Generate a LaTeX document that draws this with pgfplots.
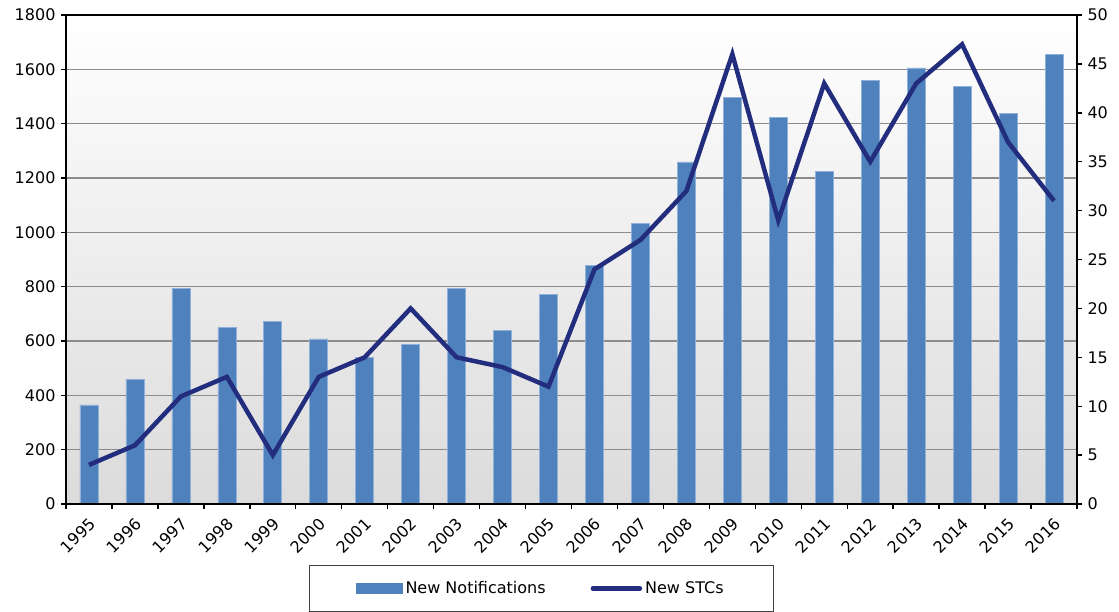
\documentclass[border=0pt]{standalone}
\usepackage{pgfplots}
\pgfplotsset{compat=1.18}
\usepackage{pgfplotstable}
\usepackage{fontspec}
\setmainfont{DejaVu Sans}
\definecolor{barblue}{HTML}{4F81BD}
\definecolor{baredge}{HTML}{8FB0D8}
\definecolor{linenavy}{HTML}{232D7D}
\definecolor{gridgray}{HTML}{8C8C8C}
\newcommand{\chartfont}{\fontsize{16}{19}\selectfont}
\newcommand{\tl}[1]{\textnormal{\chartfont #1}}

\pgfplotstableread{
x year notif stc
0 1995 365 4
1 1996 460 6
2 1997 795 11
3 1998 649 13
4 1999 673 5
5 2000 608 13
6 2001 541 15
7 2002 587 20
8 2003 795 15
9 2004 638 14
10 2005 772 12
11 2006 877 24
12 2007 1033 27
13 2008 1259 32
14 2009 1497 46
15 2010 1423 29
16 2011 1223 43
17 2012 1558 35
18 2013 1605 43
19 2014 1536 47
20 2015 1439 37
21 2016 1655 31
}\data

\begin{document}
\begin{tikzpicture}[font=\chartfont]
\pgfplotsset{
  common/.style={
    scale only axis, width=1011pt, height=489pt,
    xmin=-0.5, xmax=21.5,
    axis line style={black, line width=2.6pt},
    tick align=outside,
    major tick length=5pt,
    tick style={black, line width=1.4pt},
    tick label style={font=\chartfont},
  }
}
\begin{axis}[common, name=ax1,
  ymin=0, ymax=1800, ytick={0,200,400,600,800,1000,1200,1400,1600,1800},
  yticklabels={\tl{0},\tl{200},\tl{400},\tl{600},\tl{800},\tl{1000},\tl{1200},\tl{1400},\tl{1600},\tl{1800}},
  ytick pos=left,
  xtick={-0.5,0.5,...,21.5},
  xtick pos=bottom,
  x tick label as interval,
  xticklabels={\tl{1995},\tl{1996},\tl{1997},\tl{1998},\tl{1999},\tl{2000},\tl{2001},\tl{2002},\tl{2003},\tl{2004},\tl{2005},\tl{2006},\tl{2007},\tl{2008},\tl{2009},\tl{2010},\tl{2011},\tl{2012},\tl{2013},\tl{2014},\tl{2015},\tl{2016}},
  xticklabel style={rotate=45, anchor=east, inner sep=2pt, xshift=-4pt, yshift=-11pt},
  yticklabel style={xshift=-2pt},
  ymajorgrids,
  major grid style={gridgray, line width=1.5pt},
  axis background/.style={top color=white, middle color=gray!6, bottom color=gray!28},
]
\addplot[ybar, bar width=18pt, fill=barblue, draw=baredge, line width=0.6pt] table[x=x, y=notif]{\data};
\end{axis}
\begin{axis}[common,
  ymin=0, ymax=50, ytick={0,5,10,15,20,25,30,35,40,45,50},
  yticklabels={\tl{0},\tl{5},\tl{10},\tl{15},\tl{20},\tl{25},\tl{30},\tl{35},\tl{40},\tl{45},\tl{50}},
  ytick pos=right,
  xtick=\empty,
  yticklabel style={xshift=2pt},
  legend style={at={(0.4703,0)}, anchor=north, yshift=-61pt,
    draw=black!75, line width=1.2pt, fill=white, font=\chartfont,
    legend columns=2, inner xsep=46.5pt, inner ysep=13pt,
    /tikz/every even column/.append style={column sep=42pt},
    nodes={inner sep=3pt}},
]
\addlegendimage{legend image code/.code={\fill[barblue] (0pt,-5pt) rectangle (45pt,5pt);}}
\addlegendentry{New Notifications}
\addplot[linenavy, line width=4.5pt, line join=miter, mark=none,
  legend image code/.code={\draw[linenavy, line width=4.5pt, line cap=round] (0pt,0pt) -- (47pt,0pt);}]
  table[x=x, y=stc]{\data};
\addlegendentry{New STCs\hspace{-8pt}}
\end{axis}
\path[use as bounding box] ([shift={(-66pt,-103pt)}]ax1.south west) rectangle ([shift={(42pt,15pt)}]ax1.north east);
\end{tikzpicture}
\end{document}
